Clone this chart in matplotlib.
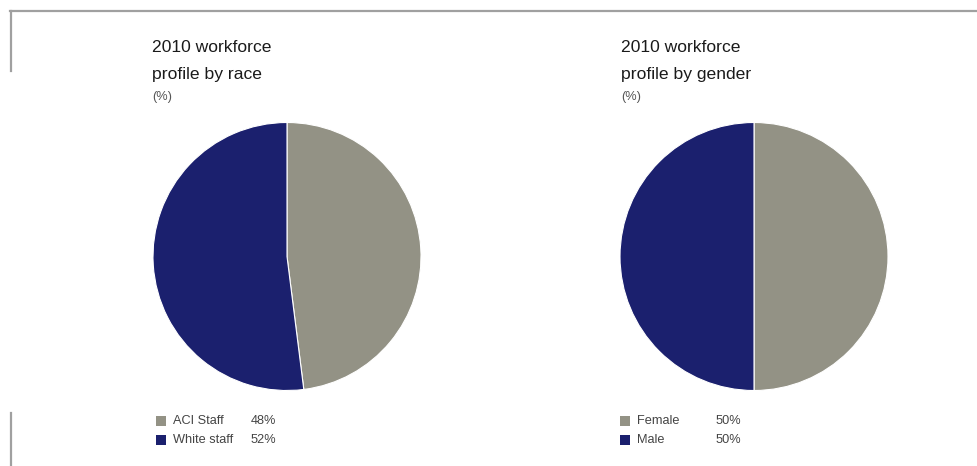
import matplotlib
matplotlib.use("Agg")
import matplotlib.pyplot as plt
from matplotlib.patches import Rectangle
from matplotlib.lines import Line2D

plt.rcParams['font.family'] = ['Liberation Sans', 'DejaVu Sans']

# Data
race_labels = ["ACI Staff", "White staff"]
race_values = [48, 52]
gender_labels = ["Female", "Male"]
gender_values = [50, 50]
colors = ["#939285", "#1b206e"]

W, H = 978, 466
fig = plt.figure(figsize=(W / 100, H / 100), dpi=100)


def fx(px):
    return px / W


def fy(py):
    return 1 - py / H


# Frame lines
fig.add_artist(Line2D([fx(10), fx(978)], [fy(11), fy(11)], color="#a0a0a0", lw=1.6))
fig.add_artist(Line2D([fx(11), fx(11)], [fy(11), fy(71)], color="#a0a0a0", lw=1.6))
fig.add_artist(Line2D([fx(11), fx(11)], [fy(413), fy(466)], color="#a0a0a0", lw=1.6))


def draw_panel(cx, title2, labels, values, text_x, legend_x, pct_x):
    r = 134
    cy = 256.5
    ax = fig.add_axes([fx(cx - r), fy(cy + r), fx(2 * r), (2 * r) / H])
    ax.pie(values, colors=colors, startangle=90, counterclock=False,
           radius=1, wedgeprops=dict(edgecolor="white", linewidth=0.8))
    ax.set_xlim(-1.0, 1.0)
    ax.set_ylim(-1.0, 1.0)
    ax.set_aspect("auto")
    ax.axis("off")

    fig.text(fx(text_x), fy(47), "2010 workforce", fontsize=12.6,
             color="#1a1a1a", va="center", ha="left")
    fig.text(fx(text_x), fy(74), title2, fontsize=12.6,
             color="#1a1a1a", va="center", ha="left")
    fig.text(fx(text_x), fy(97), "(%)", fontsize=9.2,
             color="#555555", va="center", ha="left")

    for i, (lab, val) in enumerate(zip(labels, values)):
        y = 420.5 + i * 19.5
        fig.add_artist(Rectangle((fx(legend_x), fy(y + 5)), fx(10), 10 / H,
                                 facecolor=colors[i], edgecolor="none",
                                 transform=fig.transFigure))
        fig.text(fx(legend_x + 17), fy(y), lab, fontsize=9.2,
                 color="#444444", va="center", ha="left")
        fig.text(fx(pct_x), fy(y), f"{val}%", fontsize=9.2,
                 color="#444444", va="center", ha="left")


draw_panel(287, "profile by race", race_labels, race_values, 152, 156, 251)
draw_panel(754, "profile by gender", gender_labels, gender_values, 621, 620, 716)

fig.savefig("out.png", dpi=100, facecolor="white")
